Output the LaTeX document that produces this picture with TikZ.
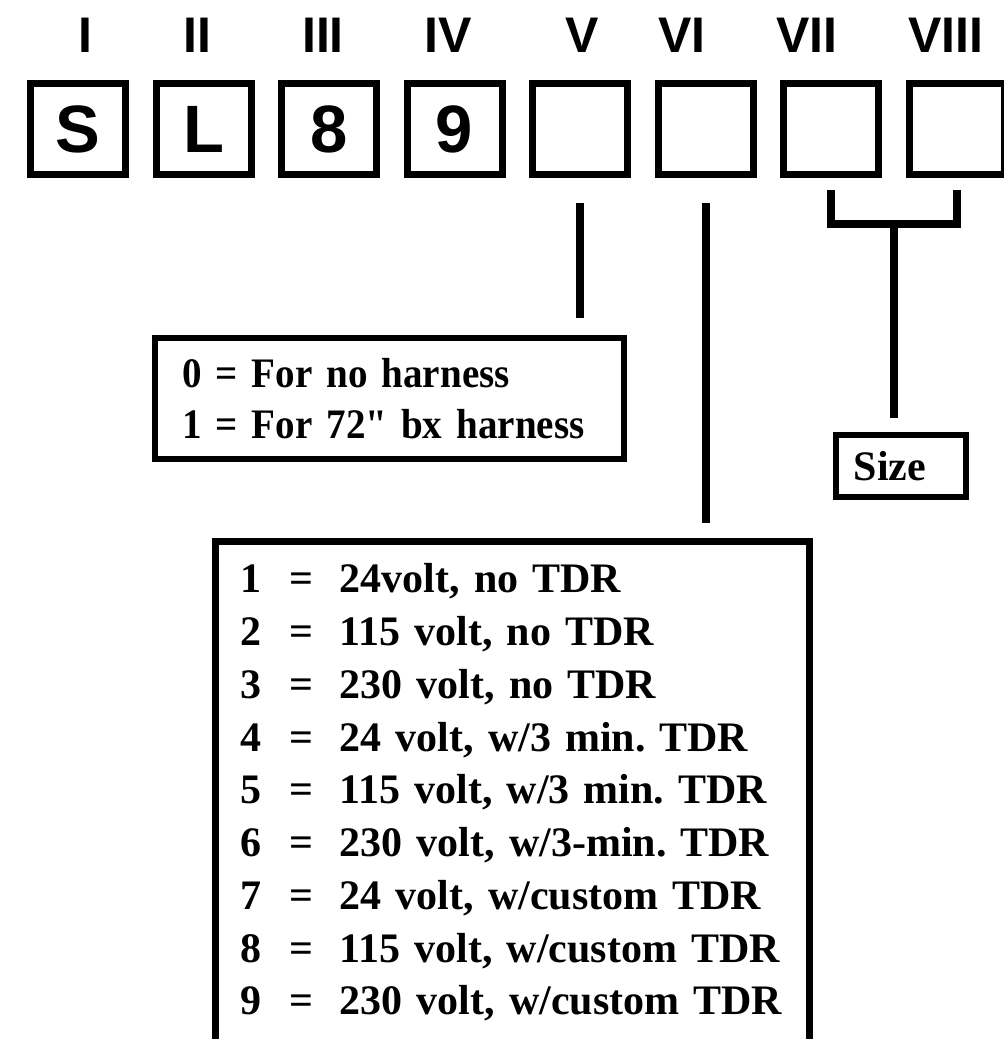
\documentclass[tikz,border=0pt]{standalone}
\usepackage{fontspec}
\setmainfont{Liberation Serif}
\newfontfamily\codefont{Liberation Sans}
\newfontfamily\narrowfont{Liberation Serif}[FakeStretch=0.93]
\usetikzlibrary{positioning, calc}
\frenchspacing

\begin{document}
\begin{tikzpicture}[
    x=1pt, y=-1pt,
    node distance=23.5pt,
    digit/.style={rectangle, draw, line width=7pt, minimum width=95pt, minimum height=91pt, inner sep=0pt, font=\codefont\bfseries\fontsize{67}{67}\selectfont},
    numeral/.style={inner sep=0pt, font=\codefont\bfseries\fontsize{50}{50}\selectfont},
    legend/.style={rectangle, draw, line width=6pt, align=left, font=\bfseries\fontsize{42}{51}\selectfont},
    rule/.style={line width=8pt}
]
    \useasboundingbox (0,0) rectangle (1004,1039);
    \clip (0,0) rectangle (1004,1039);

    % model code boxes
    \node[digit] (s) at (78,129) {S};
    \node[digit, right=of s] (l) {L};
    \node[digit, right=of l] (eight) {8};
    \node[digit, right=of eight] (nine) {9};
    \node[digit, right=of nine] (v) {};
    \node[digit, right=of v] (vi) {};
    \node[digit, right=of vi] (vii) {};
    \node[digit, right=of vii] (viii) {};

    % position numerals
    \node[numeral, above=27pt of s, xshift=7pt] (n1) {I};
    \node[numeral, above=27pt of l, xshift=-6.5pt] (n2) {II};
    \node[numeral, above=27pt of eight, xshift=-6pt] (n3) {III};
    \node[numeral, above=27pt of nine, xshift=-6.5pt] (n4) {IV};
    \node[numeral, above=27pt of v, xshift=2pt] (n5) {V};
    \node[numeral, above=27pt of vi, xshift=-23.5pt] (n6) {VI};
    \node[numeral, above=27pt of vii, xshift=-24pt] (n7) {VII};
    \node[numeral, above=27pt of viii, xshift=-10.5pt] (n8) {VIII};

    % option legends
    \node[legend, anchor=north west, text width=415pt, inner xsep=27pt, minimum height=121pt,
          font=\narrowfont\bfseries\fontsize{42}{51}\selectfont] (harness) at (152,335)
        {0 = For no harness\\1 = For 72" bx harness};
    \node[legend, line width=7pt, anchor=north west, text width=545pt, inner xsep=24.5pt, inner ysep=14.5pt,
          font=\bfseries\fontsize{42}{52.75}\selectfont] (volts) at (212,538)
        {\begin{tabular}{@{}l@{\hspace{29pt}}c@{\hspace{26pt}}l@{}}
        1 & = & 24volt, no TDR\\
        2 & = & 115 volt, no TDR\\
        3 & = & 230 volt, no TDR\\
        4 & = & 24 volt, w/3 min. TDR\\
        5 & = & 115 volt, w/3 min. TDR\\
        6 & = & 230 volt, w/3-min. TDR\\
        7 & = & 24 volt, w/custom TDR\\
        8 & = & 115 volt, w/custom TDR\\
        9 & = & 230 volt, w/custom TDR
        \end{tabular}};

    % bracket for VII and VIII
    \draw[rule] ([yshift=-12pt]vii.south) -- ([yshift=-46pt]vii.south) -- ([yshift=-46pt]viii.south) -- ([yshift=-12pt]viii.south);
    \path ([yshift=-46pt]vii.south) -- coordinate (brmid) ([yshift=-46pt]viii.south);
    \node[legend, minimum width=130pt, minimum height=62pt, text width=94pt, inner xsep=18pt,
          below=208pt of brmid, xshift=7pt] (size) {Size};

    \draw[rule, shorten <=25pt, shorten >=17pt] (v.south) -- (v.south |- harness.north);
    \draw[rule, shorten <=25pt, shorten >=15pt] (vi.south) -- (vi.south |- volts.north);
    \draw[rule, shorten >=14pt] (brmid) -- (brmid |- size.north);
\end{tikzpicture}
\end{document}
